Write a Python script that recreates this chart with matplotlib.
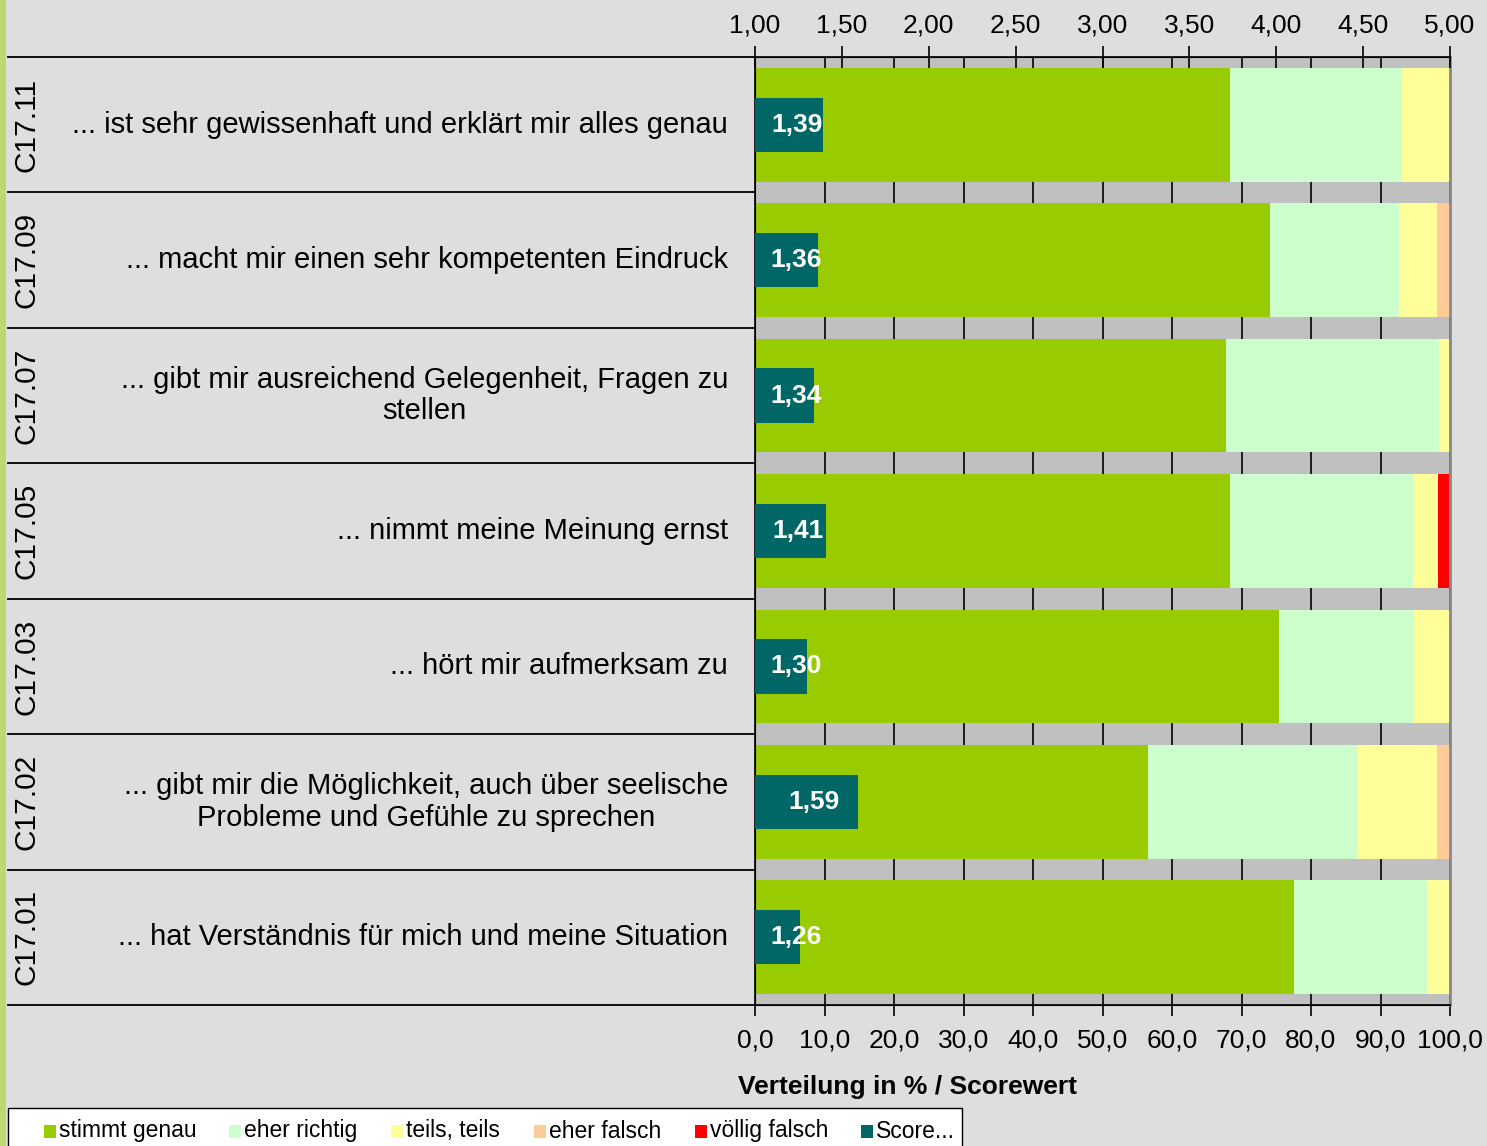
import matplotlib
matplotlib.use("Agg")
import matplotlib.pyplot as plt
from matplotlib.patches import Rectangle
from matplotlib.transforms import blended_transform_factory
from matplotlib.lines import Line2D

plt.rcParams['font.family'] = ['Liberation Sans', 'DejaVu Sans']

codes = ["C17.11", "C17.09", "C17.07", "C17.05", "C17.03", "C17.02", "C17.01"]
labels = [
    "... ist sehr gewissenhaft und erklärt mir alles genau",
    "... macht mir einen sehr kompetenten Eindruck",
    "... gibt mir ausreichend Gelegenheit, Fragen zu\nstellen",
    "... nimmt meine Meinung ernst",
    "... hört mir aufmerksam zu",
    "... gibt mir die Möglichkeit, auch über seelische\nProbleme und Gefühle zu sprechen",
    "... hat Verständnis für mich und meine Situation",
]
stimmt_genau = [68.3, 74.1, 67.8, 68.3, 75.4, 56.5, 77.6]
eher_richtig = [24.8, 18.6, 30.6, 26.4, 19.3, 30.3, 19.1]
teils_teils = [6.9, 5.4, 1.6, 3.6, 5.3, 11.3, 3.3]
eher_falsch = [0.0, 1.9, 0.0, 0.0, 0.0, 1.9, 0.0]
voellig_falsch = [0.0, 0.0, 0.0, 1.7, 0.0, 0.0, 0.0]
score = [1.39, 1.36, 1.34, 1.41, 1.30, 1.59, 1.26]

series_names = ["stimmt genau", "eher richtig", "teils, teils", "eher falsch", "völlig falsch"]
series = [stimmt_genau, eher_richtig, teils_teils, eher_falsch, voellig_falsch]
colors = ["#99CC00", "#CCFFCC", "#FFFF99", "#FFCC99", "#FF0000"]
score_name = "Score..."
score_color = "#006666"
bottom_ticks = list(range(0, 101, 10))
top_ticks = [1.0, 1.5, 2.0, 2.5, 3.0, 3.5, 4.0, 4.5, 5.0]

W, H = 1487, 1146
fig = plt.figure(figsize=(W / 100, H / 100), dpi=100)
fig.patch.set_facecolor("#DEDEDE")

fig.patches.append(Rectangle((0, 0), 6 / W, 1, transform=fig.transFigure,
                             facecolor="#BDD86E", edgecolor="none", zorder=0))

ax = fig.add_axes([755 / W, 1 - 1005 / H, 695 / W, 948 / H])
ax.set_facecolor("#C0C0C0")
n = len(codes)
ypos = list(range(n))
left = [0.0] * n
for name, vals, c in zip(series_names, series, colors):
    ax.barh(ypos, vals, left=left, height=0.84, color=c, label=name, zorder=2)
    left = [a + b for a, b in zip(left, vals)]
ax.set_xlim(0, 100)
ax.set_ylim(n - 0.5, -0.5)
ax.set_xticks(bottom_ticks)
ax.set_xticklabels([f"{t:.1f}".replace(".", ",") for t in bottom_ticks], fontsize=19)
ax.set_yticks([])
ax.grid(axis="x", color="black", linewidth=1.2, zorder=0)
ax.set_axisbelow(True)
ax.tick_params(axis="x", direction="out", length=8, width=1.2, pad=9)
ax.set_xlabel("Verteilung in % / Scorewert", fontsize=19, fontweight="bold")
ax.xaxis.set_label_coords((907 - 755) / 695, -(1087 - 1005) / 948)
ax.xaxis.label.set_va("center")
for s in ["left", "bottom"]:
    ax.spines[s].set_color("black")
    ax.spines[s].set_linewidth(1.2)
ax.spines["right"].set_color("#888888")
ax.spines["right"].set_linewidth(2)

ax2 = ax.twiny()
ax2.barh(ypos, [s - 1 for s in score], left=1.0, height=0.40, color=score_color,
         label=score_name, zorder=3)
ax2.set_xlim(1, 5)
ax2.set_xticks(top_ticks)
ax2.set_xticklabels([f"{t:.2f}".replace(".", ",") for t in top_ticks], fontsize=19)
ax2.tick_params(axis="x", direction="inout", length=16, width=1.2, pad=6)
ax2.spines["top"].set_linewidth(1.2)
ax2.spines["right"].set_visible(False)
for y, s in zip(ypos, score):
    xc = max((1 + s) / 2 + 0.045, 1.236)
    ax2.text(xc, y, f"{s:.2f}".replace(".", ","), color="white", fontsize=19,
             fontweight="bold", ha="center", va="center", zorder=5)

tr = blended_transform_factory(ax.transAxes, ax.transData)
x_left = (8 - 755) / 695
for b in [i - 0.5 for i in range(n + 1)]:
    ax.add_line(Line2D([x_left, 0], [b, b], transform=tr, color="black",
                       linewidth=1.3, clip_on=False))
for y, code, lab in zip(ypos, codes, labels):
    ax.text((728 - 755) / 695, y, lab, transform=tr, ha="right", va="center",
            multialignment="center", fontsize=21, linespacing=1.15)
    ax.text((26 - 755) / 695, y, code, transform=tr, ha="center", va="center",
            rotation=90, fontsize=21.5)

# legend (drawn as a boxed row of entries, cut by the lower figure edge)
fig.patches.append(Rectangle((8 / W, 1 - 1152 / H), (962 - 8) / W, 44 / H,
                             transform=fig.transFigure, facecolor="white",
                             edgecolor="black", linewidth=1.0, zorder=1))
leg_names = series_names + [score_name]
leg_colors = colors + [score_color]
leg_x = [44, 229, 391, 534, 695, 861]
yc = 1 - 1131 / H
for xs, nm, c in zip(leg_x, leg_names, leg_colors):
    fig.patches.append(Rectangle((xs / W, yc - 6.5 / H), 12 / W, 13 / H,
                                 transform=fig.transFigure, facecolor=c,
                                 edgecolor="none", zorder=2))
    fig.text((xs + 15) / W, yc, nm, fontsize=16.5, ha="left", va="center", zorder=3)

fig.savefig("out.png", dpi=100, facecolor=fig.get_facecolor())
